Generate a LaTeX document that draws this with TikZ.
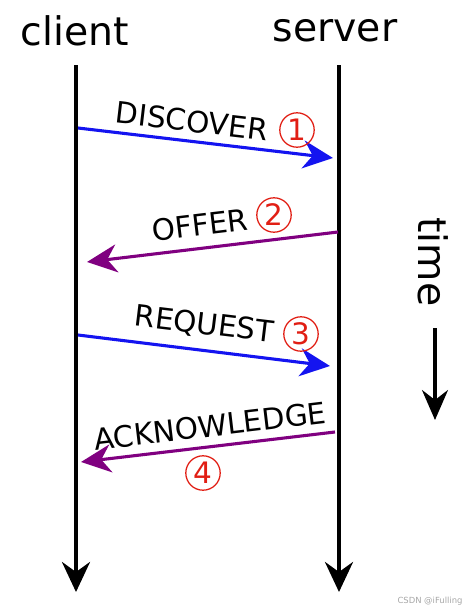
\documentclass[tikz,border=0pt]{standalone}
\usepackage{fontspec}
\setmainfont{DejaVu Sans}
\usetikzlibrary{arrows.meta}
\definecolor{msgblue}{RGB}{20,20,240}
\definecolor{msgpurple}{RGB}{128,0,128}
\definecolor{numred}{RGB}{225,30,20}
\tikzset{
  lifeline/.style={line width=2.8pt,-{Stealth[length=7.5mm,width=7mm,inset=2.5mm]}},
  msg/.style={line width=2.2pt,-{Stealth[length=7.5mm,width=7mm,inset=2.4mm]}},
  party/.style={font=\fontsize{28}{30}\selectfont},
  msglabel/.style={font=\fontsize{21}{23}\selectfont},
  stepnum/.style={circle,draw=numred,line width=0.9pt,minimum size=0.86cm,inner sep=0pt,
    font=\fontsize{21}{23}\selectfont,text=numred}
}
\begin{document}
\begin{tikzpicture}[x=0.025cm,y=-0.025cm]
        \useasboundingbox (0,0) rectangle (467,612);
        % parties
        \node[party] (client) at (75,31) {client};
        \node[party] (server) at (335,31) {server};
        \coordinate (ctop) at (76,65);
        \coordinate (cbot) at (76,592);
        \coordinate (stop) at (339,65);
        \coordinate (sbot) at (339,592);
        \draw[lifeline] (ctop) -- (cbot);
        \draw[lifeline] (stop) -- (sbot);
        % DISCOVER
        \coordinate (d1) at (78,128);
        \coordinate (d2) at (333,158);
        \draw[msg,msgblue] (d1) -- (d2);
        \node[msglabel,rotate=-6.7] (discover) at (192,121) {DISCOVER};
        \node[stepnum] (n1) at (297,130) {1};
        % OFFER
        \coordinate (o1) at (338,232);
        \coordinate (o2) at (87,262);
        \draw[msg,msgpurple] (o1) -- (o2);
        \node[msglabel,rotate=6.8] (offer) at (200,225) {OFFER};
        \node[stepnum] (n2) at (274,215) {2};
        % REQUEST
        \coordinate (r1) at (78,335);
        \coordinate (r2) at (330,366);
        \draw[msg,msgblue] (r1) -- (r2);
        \node[msglabel,rotate=-6.9] (request) at (204,325) {REQUEST};
        \node[stepnum] (n3) at (301,334) {3};
        % ACKNOWLEDGE
        \coordinate (a1) at (335,432);
        \coordinate (a2) at (81,462);
        \draw[msg,msgpurple] (a1) -- (a2);
        \node[msglabel,rotate=6.8] (ack) at (210,426) {ACKNOWLEDGE};
        \node[stepnum] (n4) at (203,473) {4};
        % time
        \node[party,rotate=-90] (time) at (433,262) {time};
        \coordinate (t1) at (435,328);
        \coordinate (t2) at (435,420);
        \draw[line width=2.2pt,-{Stealth[length=7.5mm,width=6.5mm,inset=2.5mm]}] (t1) -- (t2);
        \node[font=\fontsize{6}{7}\selectfont,text=black!35] (mark) at (430,601) {CSDN @iFulling};
\end{tikzpicture}
\end{document}
